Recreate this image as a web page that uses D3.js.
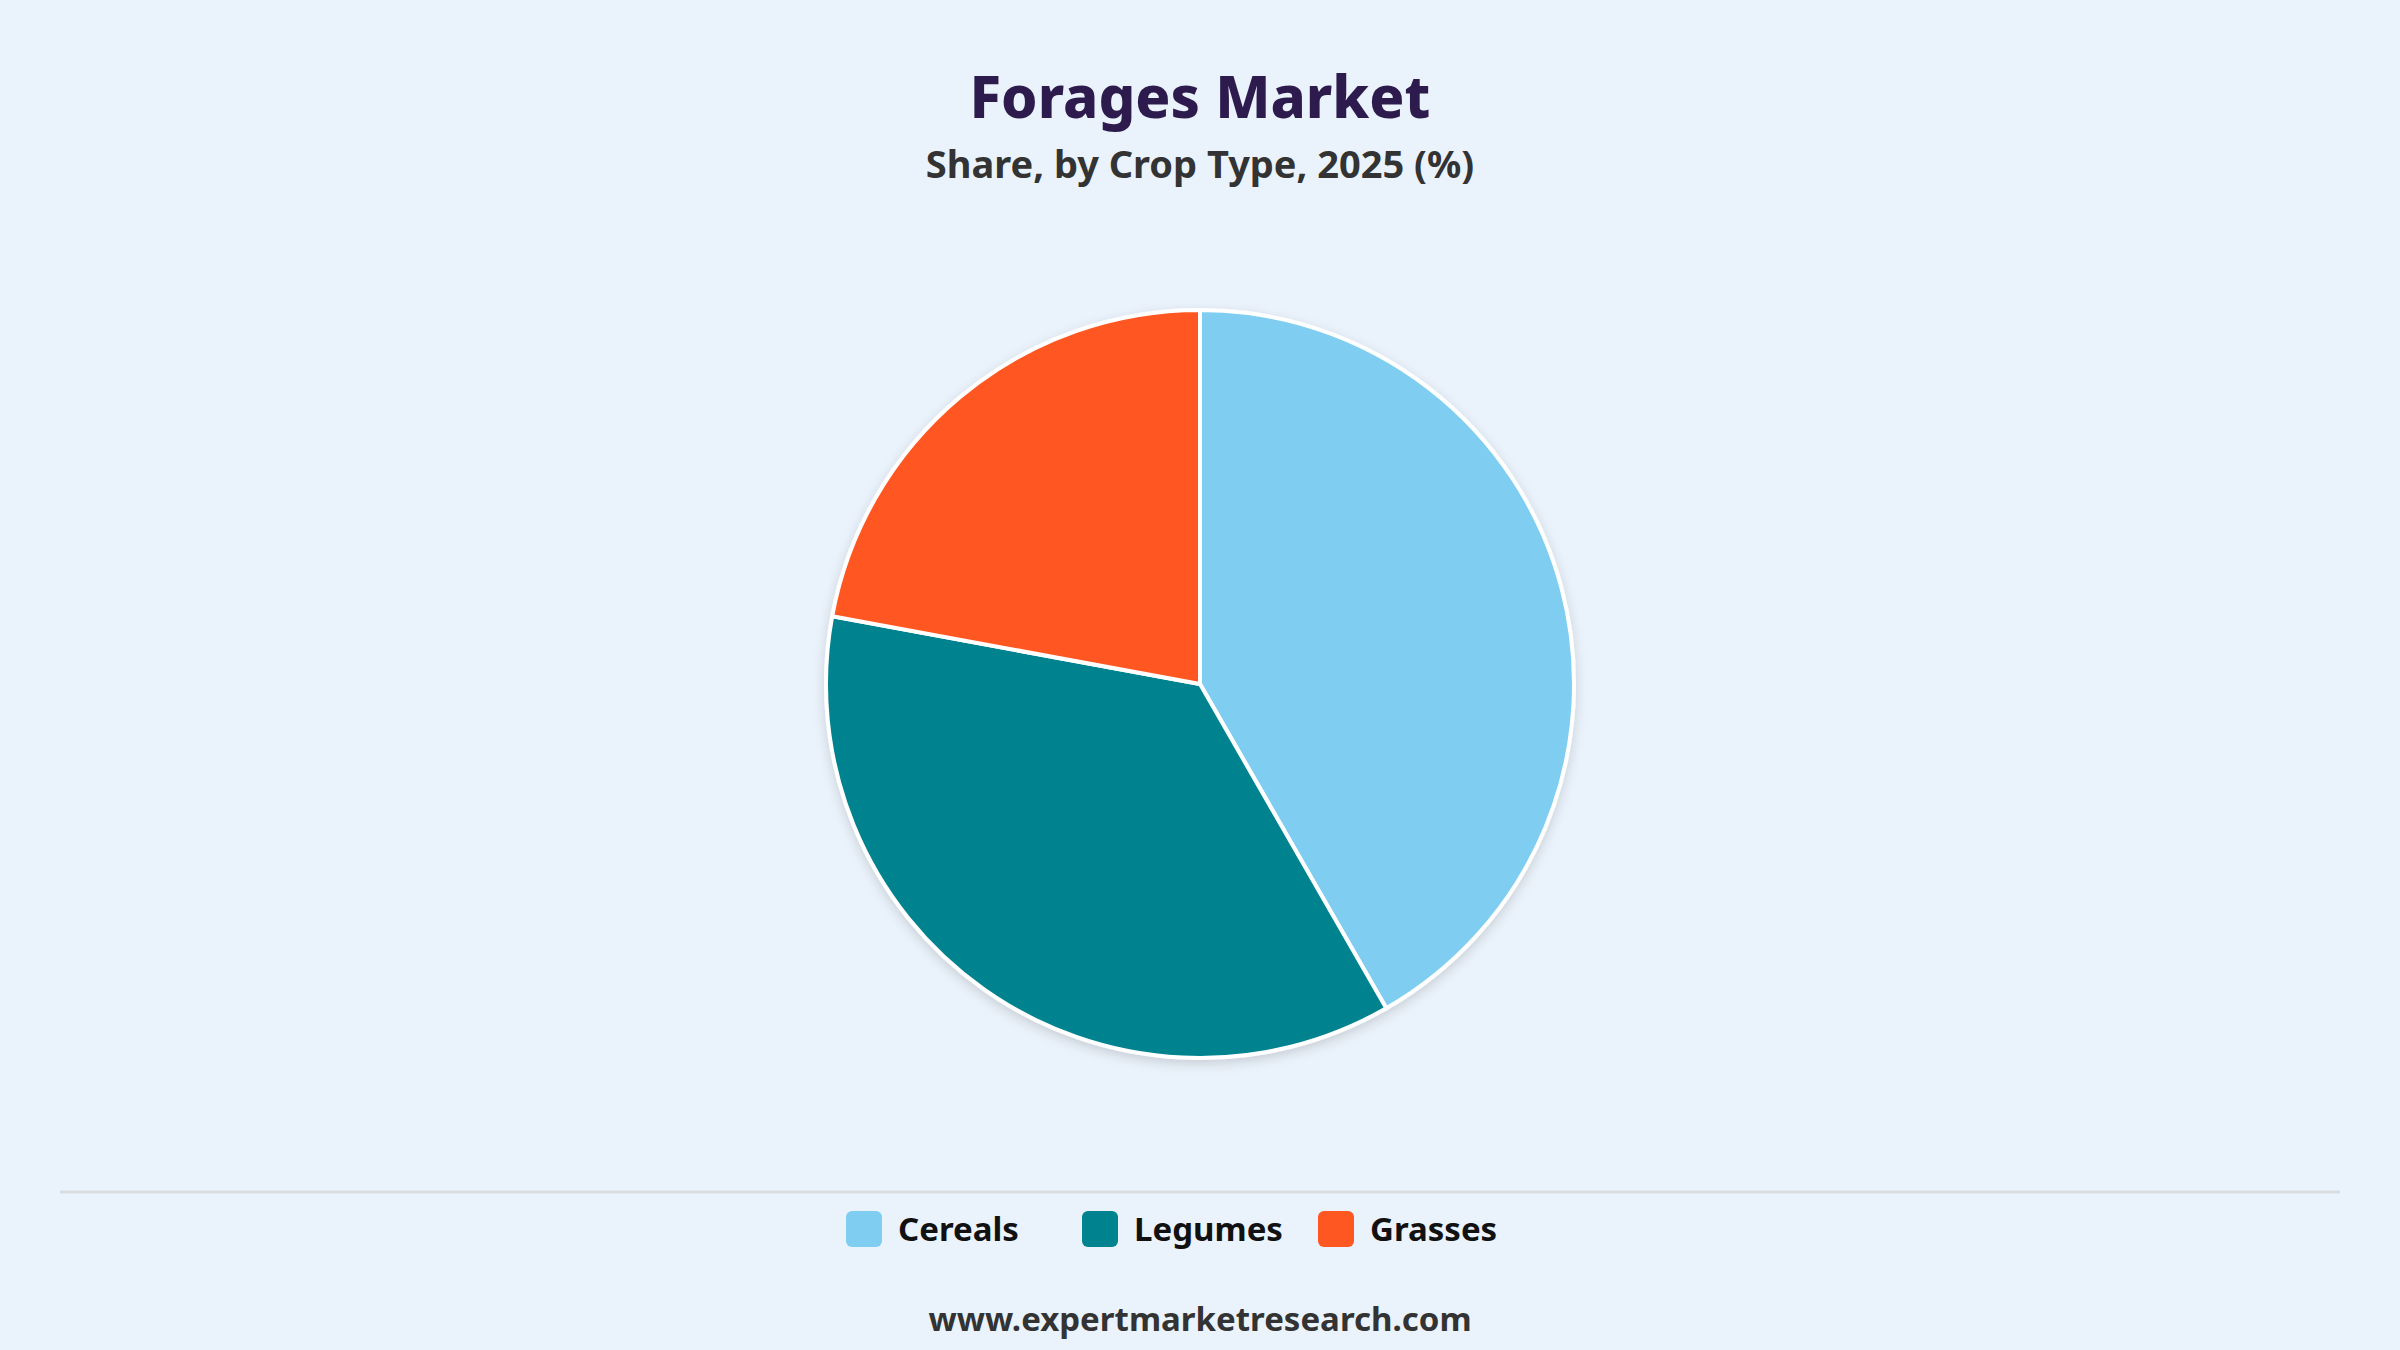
<!DOCTYPE html>
<html><head><meta charset="utf-8">
<script src="https://cdn.jsdelivr.net/npm/d3@7"></script>
<style>
body{margin:0;background:#EAF2FB;}
svg{display:block;font-family:"Noto Sans",sans-serif;}
</style></head>
<body><svg id="chart" width="2400" height="1350"></svg>
<script>
const categories = ['Cereals', 'Legumes', 'Grasses'];
const shares = [41.7, 36.2, 22.1];
const colors = ['#7FCEF1', '#00838F', '#FF5722'];

const width = 2400, height = 1350;
const svg = d3.select('#chart');
svg.append('rect').attr('width', width).attr('height', height).attr('fill', '#EAF2FB');

svg.append('text').attr('x', width / 2).attr('y', 118).attr('text-anchor', 'middle')
  .attr('font-size', 58).attr('font-weight', 800).attr('fill', '#2D1B4E').text('Forages Market');
svg.append('text').attr('x', width / 2).attr('y', 178).attr('text-anchor', 'middle')
  .attr('font-size', 38).attr('font-weight', 700).attr('fill', '#333').text('Share, by Crop Type, 2025 (%)');

const defs = svg.append('defs');
const f = defs.append('filter').attr('id', 'shadow').attr('x', '-20%').attr('y', '-20%').attr('width', '140%').attr('height', '140%');
f.append('feDropShadow').attr('dx', 0).attr('dy', 4).attr('stdDeviation', 6).attr('flood-color', '#000').attr('flood-opacity', 0.15);

const data = categories.map((c, i) => ({ name: c, value: shares[i], color: colors[i] }));
const pie = d3.pie().value(d => d.value).sort(null);
const arc = d3.arc().innerRadius(0).outerRadius(374);
const g = svg.append('g').attr('transform', 'translate(1200,684)').attr('filter', 'url(#shadow)');
g.selectAll('path').data(pie(data)).join('path')
  .attr('d', arc).attr('fill', d => d.data.color)
  .attr('stroke', '#fff').attr('stroke-width', 4);

svg.append('line').attr('x1', 60).attr('x2', 2340).attr('y1', 1192).attr('y2', 1192)
  .attr('stroke', '#d9dde2').attr('stroke-width', 3);

const legendX = [846, 1082, 1318];
const lg = svg.append('g');
data.forEach((d, i) => {
  const item = lg.append('g').attr('transform', `translate(${legendX[i]},1229)`);
  item.append('rect').attr('x', 0).attr('y', -18).attr('width', 36).attr('height', 36).attr('rx', 6).attr('fill', d.color);
  item.append('text').attr('x', 52).attr('y', 12).attr('font-size', 33).attr('font-weight', 700).attr('fill', '#111').text(d.name);
});

svg.append('text').attr('x', width / 2).attr('y', 1331).attr('text-anchor', 'middle')
  .attr('font-size', 33).attr('font-weight', 700).attr('fill', '#333').text('www.expertmarketresearch.com');
</script></body></html>
